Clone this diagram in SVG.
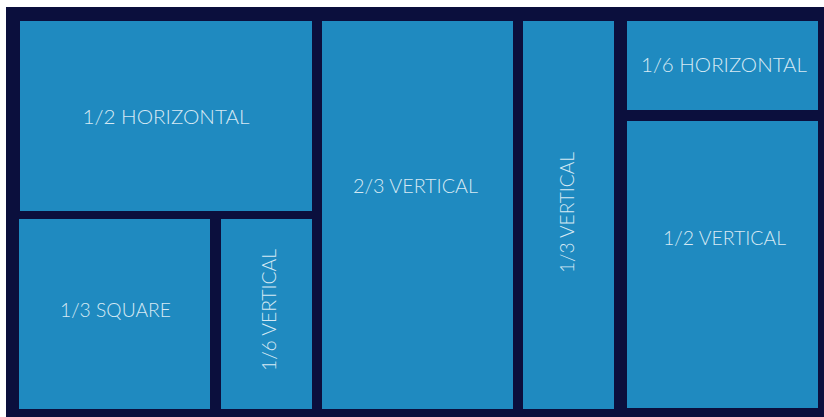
<svg xmlns="http://www.w3.org/2000/svg" width="824" height="417" viewBox="0 0 824 417">
<style>
.bg{fill:#0b0f3d}
.p{fill:#1f8ac0}
.t{fill:#d6e9f4;font-family:Lato,"Open Sans","Liberation Sans",sans-serif;font-weight:300;font-size:20px;text-anchor:middle}
</style>
<rect class="bg" x="6" y="7" width="818" height="410"/>
<g id="half-horizontal">
<rect class="p" x="20" y="21" width="292" height="190"/>
<text class="t" x="166" y="124" textLength="167" lengthAdjust="spacingAndGlyphs">1/2 HORIZONTAL</text>
</g>
<g id="third-square">
<rect class="p" x="19" y="219" width="191" height="190"/>
<text class="t" x="115.5" y="317" textLength="111" lengthAdjust="spacingAndGlyphs">1/3 SQUARE</text>
</g>
<g id="sixth-vertical">
<rect class="p" x="221" y="219" width="91" height="190"/>
<text class="t" transform="translate(276 310) rotate(-90)" x="0" y="0" textLength="122" lengthAdjust="spacingAndGlyphs">1/6 VERTICAL</text>
</g>
<g id="two-thirds-vertical">
<rect class="p" x="322" y="21" width="191" height="388"/>
<text class="t" x="415.5" y="193" textLength="125" lengthAdjust="spacingAndGlyphs">2/3 VERTICAL</text>
</g>
<g id="third-vertical">
<rect class="p" x="523" y="21" width="91" height="388"/>
<text class="t" transform="translate(574 212.5) rotate(-90)" x="0" y="0" textLength="121" lengthAdjust="spacingAndGlyphs">1/3 VERTICAL</text>
</g>
<g id="sixth-horizontal">
<rect class="p" x="627" y="21" width="191" height="89"/>
<text class="t" x="724" y="72" textLength="166" lengthAdjust="spacingAndGlyphs">1/6 HORIZONTAL</text>
</g>
<g id="half-vertical">
<rect class="p" x="627" y="121" width="191" height="287"/>
<text class="t" x="724.5" y="245" textLength="123" lengthAdjust="spacingAndGlyphs">1/2 VERTICAL</text>
</g>
</svg>
